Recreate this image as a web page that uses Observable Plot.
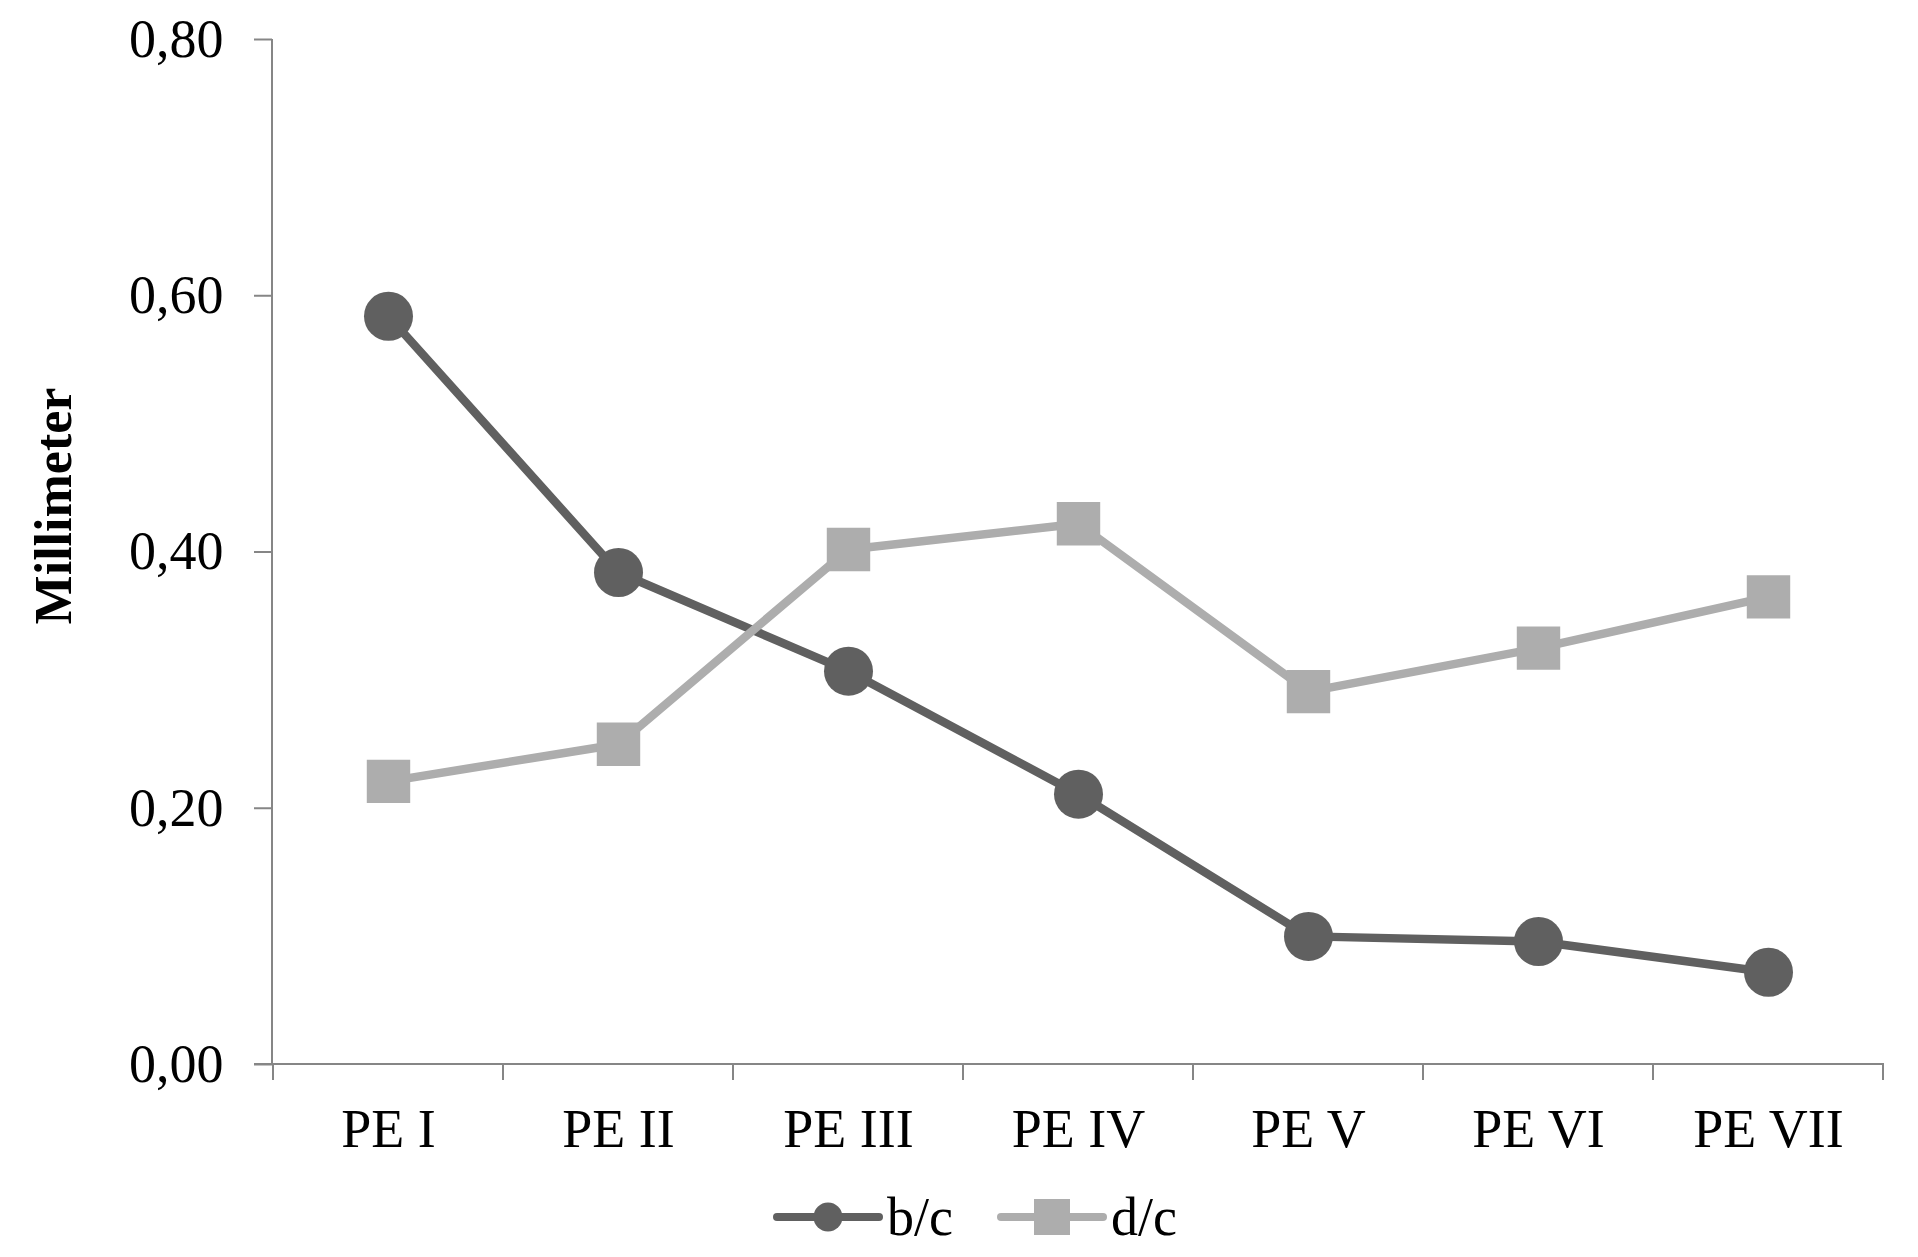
<!DOCTYPE html>
<html>
<head>
<meta charset="utf-8">
<script src="https://cdn.jsdelivr.net/npm/d3@7"></script>
<script src="https://cdn.jsdelivr.net/npm/@observablehq/plot@0.6"></script>
<style>
  html, body { margin: 0; padding: 0; background: #fff; }
  body { width: 1918px; height: 1257px; overflow: hidden; font-family: "Liberation Serif", "Times New Roman", serif; }
  #legend { position: relative; height: 77px; }
</style>
</head>
<body>
<div id="chart"></div>
<div id="legend"></div>
<script>
const categories = ["PE I", "PE II", "PE III", "PE IV", "PE V", "PE VI", "PE VII"];
const bc = [0.584, 0.384, 0.307, 0.211, 0.100, 0.096, 0.072];
const dc = [0.221, 0.250, 0.402, 0.422, 0.291, 0.325, 0.365];
const seriesNames = ["b/c", "d/c"];
const seriesColors = ["#606060", "#adadad"];
const yTicks = [0, 0.2, 0.4, 0.6, 0.8];
const yLabel = "Millimeter";

const rowsBC = categories.map((c, i) => ({cat: c, series: seriesNames[0], v: bc[i]}));
const rowsDC = categories.map((c, i) => ({cat: c, series: seriesNames[1], v: dc[i]}));

const W = 1918, H = 1180;
const AX = "#868686";
const fmt = d => d3.format(".2f")(d).replace(".", ",");

const chart = Plot.plot({
  width: W, height: H,
  marginLeft: 272, marginRight: 34, marginTop: 39, marginBottom: 116,
  style: {fontFamily: "'Liberation Serif', 'Times New Roman', serif", fontSize: "54px", color: "#000", background: "#fff", overflow: "visible"},
  x: {type: "band", domain: categories, padding: 0, label: null},
  y: {domain: [0, 0.8], label: null},
  marks: [
    Plot.axisY({ticks: yTicks, tickSize: 18, tickPadding: 31, tickFormat: fmt, label: null}),
    Plot.axisX({tickSize: 0, tickPadding: 44, label: null}),
    Plot.lineY(rowsBC, {x: "cat", y: "v", stroke: seriesColors[0], strokeWidth: 8.5, strokeLinejoin: "round"}),
    Plot.dot(rowsBC, {x: "cat", y: "v", r: 24.5, symbol: "circle", fill: seriesColors[0], stroke: "none"}),
    Plot.lineY(rowsDC, {x: "cat", y: "v", stroke: seriesColors[1], strokeWidth: 8.5, strokeLinejoin: "round"}),
    Plot.dot(rowsDC, {x: "cat", y: "v", r: 24.5, symbol: "square", fill: seriesColors[1], stroke: "none"}),
    Plot.text([yLabel], {frameAnchor: "left", textAnchor: "middle", rotate: -90, dx: -218, dy: -46, fontWeight: "bold", fontSize: 52, fill: "#000"})
  ]
});

document.getElementById("chart").appendChild(chart);

// axis lines & boundary ticks using the chart's own scales
const sx = chart.scale("x"), sy = chart.scale("y");
const svg = d3.select(chart);
svg.selectAll('g[aria-label="y-axis tick"] path, g[aria-label="x-axis tick"] path').attr("stroke", AX).attr("stroke-width", 2);
svg.selectAll('g[aria-label="y-axis tick label"], g[aria-label="x-axis tick label"]').attr("fill", "#000");
const g = svg.insert("g", "g").attr("stroke", AX).attr("stroke-width", 2).attr("fill", "none");
const x0 = sx.range[0], x1 = sx.range[1];
const y0 = sy.apply(0), yTop = sy.apply(0.8);
g.append("line").attr("x1", x0).attr("x2", x0).attr("y1", yTop).attr("y2", y0);
g.append("line").attr("x1", x0 - 18).attr("x2", x1).attr("y1", y0).attr("y2", y0);
const bounds = categories.map(c => sx.apply(c)).concat([sx.apply(categories[categories.length - 1]) + sx.bandwidth]);
g.selectAll("line.bt").data(bounds).join("line").attr("class", "bt")
  .attr("x1", d => d).attr("x2", d => d).attr("y1", y0).attr("y2", y0 + 16);

// legend (below the svg)
const legend = d3.select("#legend");
const items = [
  {name: seriesNames[0], color: seriesColors[0], symbol: "circle", left: 773},
  {name: seriesNames[1], color: seriesColors[1], symbol: "square", left: 997}
];
items.forEach(it => {
  const d = legend.append("div")
    .style("position", "absolute").style("left", it.left + "px").style("top", "-2px")
    .style("height", "77px").style("display", "flex").style("align-items", "center");
  const s = d.append("svg").attr("width", 110).attr("height", 40).style("display", "block");
  s.append("line").attr("x1", 4).attr("x2", 106).attr("y1", 20).attr("y2", 20)
    .attr("stroke", it.color).attr("stroke-width", 8).attr("stroke-linecap", "round");
  if (it.symbol === "circle") s.append("circle").attr("cx", 55).attr("cy", 20).attr("r", 14.5).attr("fill", it.color);
  else s.append("rect").attr("x", 37).attr("y", 2).attr("width", 36).attr("height", 36).attr("fill", it.color);
  d.append("span").text(it.name).style("font-size", "54px").style("line-height", "1").style("margin-left", "4px").style("color", "#000");
});
</script>
</body>
</html>
